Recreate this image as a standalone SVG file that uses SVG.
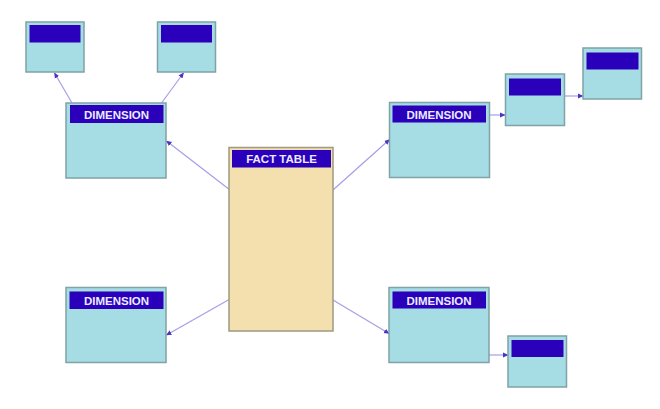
<svg xmlns="http://www.w3.org/2000/svg" width="660" height="409" viewBox="0 0 660 409">
<defs>
<marker id="arr" markerWidth="6" markerHeight="6" refX="5" refY="3" orient="auto" markerUnits="userSpaceOnUse">
<path d="M0,0.5 L5.5,3 L0,5.5 z" fill="#4a36c4"/>
</marker>
</defs>
<style>
.box{fill:#a6dce4;stroke:#7fa3a6;stroke-width:1.5}
.fact{fill:#f4dfae;stroke:#a09880;stroke-width:1.5}
.hdr{fill:#2a00bb}
.lbl{font-family:"Liberation Sans",Arial,sans-serif;font-weight:bold;font-size:11.5px;fill:#ecebff;text-anchor:middle}
.con{stroke:#a79ee6;stroke-width:1.2;fill:none;marker-end:url(#arr)}
</style>
<rect width="660" height="409" fill="#ffffff"/>
<g id="connectors">
<line class="con" x1="72" y1="103" x2="54.5" y2="73"/>
<line class="con" x1="161.5" y1="103" x2="183.5" y2="73"/>
<line class="con" x1="230" y1="190" x2="166.5" y2="141"/>
<line class="con" x1="333" y1="190" x2="389.5" y2="139.5"/>
<line class="con" x1="489" y1="115" x2="505" y2="115"/>
<line class="con" x1="564.5" y1="96" x2="583" y2="96"/>
<line class="con" x1="230" y1="299" x2="166.5" y2="335"/>
<line class="con" x1="333" y1="300" x2="389" y2="333.5"/>
<line class="con" x1="489" y1="355" x2="508" y2="355"/>
</g>
<g id="fact-table">
<rect class="fact" x="229" y="147.5" width="104" height="183.5"/>
<rect class="hdr" x="232" y="150" width="99" height="17.5"/>
<text class="lbl" x="281.5" y="163">FACT TABLE</text>
</g>
<g id="dim-top-left">
<rect class="box" x="66" y="103" width="100" height="75"/>
<rect class="hdr" x="70" y="105" width="93.5" height="18"/>
<text class="lbl" x="116.5" y="118.5">DIMENSION</text>
</g>
<g id="sub-top-left-1">
<rect class="box" x="26" y="22" width="58" height="50"/>
<rect class="hdr" x="29.5" y="25" width="51" height="17.5"/>
</g>
<g id="sub-top-left-2">
<rect class="box" x="157.5" y="22" width="58" height="50"/>
<rect class="hdr" x="161" y="25" width="51" height="17.5"/>
</g>
<g id="dim-top-right">
<rect class="box" x="389.5" y="102.5" width="100" height="75"/>
<rect class="hdr" x="392.5" y="105.5" width="93.5" height="17"/>
<text class="lbl" x="439" y="118.5">DIMENSION</text>
</g>
<g id="sub-top-right-1">
<rect class="box" x="505.5" y="74" width="59" height="51.5"/>
<rect class="hdr" x="509" y="78.5" width="52" height="17"/>
</g>
<g id="sub-top-right-2">
<rect class="box" x="583" y="48" width="58.5" height="51"/>
<rect class="hdr" x="586.5" y="52.5" width="52" height="17"/>
</g>
<g id="dim-bottom-left">
<rect class="box" x="66" y="287.5" width="100" height="75"/>
<rect class="hdr" x="69.5" y="291.5" width="94" height="17.5"/>
<text class="lbl" x="116.5" y="304.5">DIMENSION</text>
</g>
<g id="dim-bottom-right">
<rect class="box" x="389" y="287.5" width="100" height="75"/>
<rect class="hdr" x="392.5" y="291.5" width="93.5" height="17"/>
<text class="lbl" x="439" y="304.5">DIMENSION</text>
</g>
<g id="sub-bottom-right">
<rect class="box" x="508" y="336" width="58.5" height="51"/>
<rect class="hdr" x="511.5" y="340" width="52" height="17"/>
</g>
</svg>
